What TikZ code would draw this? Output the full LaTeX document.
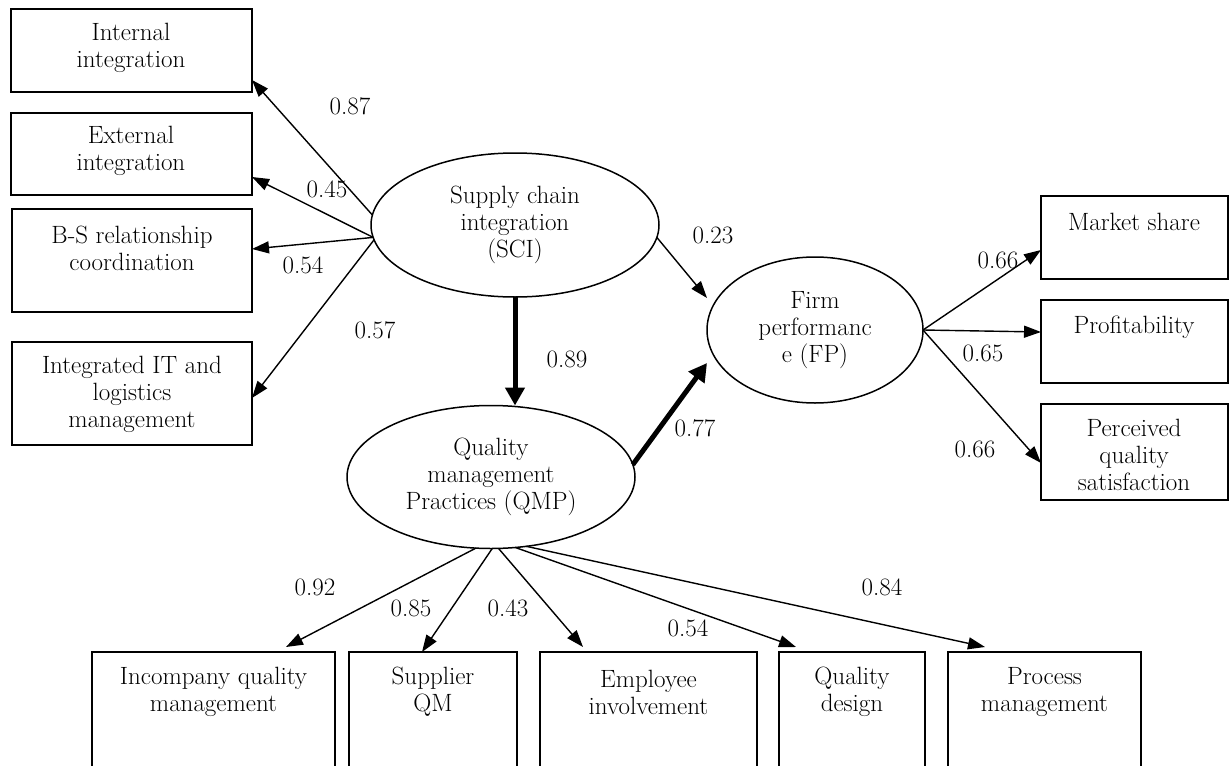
\documentclass[tikz,border=0pt]{standalone}
\usepackage{fontspec}
\usetikzlibrary{arrows.meta,shapes.geometric}
\begin{document}
\begin{tikzpicture}[x=1pt,y=-1pt,
  box/.style={draw,line width=1.8pt,inner sep=0pt,outer sep=0pt},
  ell/.style={draw,ellipse,line width=1.5pt,inner sep=0pt,outer sep=0pt,align=center,font=\fontsize{25}{27}\selectfont},
  txt/.style={align=center,inner sep=0pt,font=\fontsize{25}{27}\selectfont},
  lbl/.style={inner sep=0pt,font=\fontsize{25}{27}\selectfont},
  arr/.style={line width=1.4pt,-{Triangle[length=17pt,width=12pt]}},
  bigarr/.style={line width=5pt,-{Triangle[length=18pt,width=19pt]}}]
\useasboundingbox (0,0) rectangle (1230,765);
% left boxes
\node[box,minimum width=241pt,minimum height=83pt] (ii) at (131.5,50.5) {};
\node[box,minimum width=241pt,minimum height=82pt] (ex) at (131.5,154) {};
\node[box,minimum width=240pt,minimum height=103pt] (bs) at (132,260.5) {};
\node[box,minimum width=240pt,minimum height=103pt] (it) at (132,393.5) {};
\node[txt] (iit) at (131,48) {Internal\\integration};
\node[txt] (ext) at (131,151) {External\\integration};
\node[txt] (bst) at (132,248) {B-S relationship\\coordination};
\node[txt] (itt) at (132,394) {Integrated IT and\\logistics\\management};
% right boxes
\node[box,minimum width=187pt,minimum height=83pt] (ms) at (1134.5,237.5) {};
\node[box,minimum width=187pt,minimum height=83pt] (pr) at (1134.5,341.5) {};
\node[box,minimum width=187pt,minimum height=96pt] (pq) at (1134.5,452) {};
\node[txt] (mst) at (1134,222) {Market share};
\node[txt] (prt) at (1134,327) {Profitability};
\node[txt] (pqt) at (1134,455) {Perceived\\quality\\satisfaction};
% bottom boxes
\node[box,minimum width=243pt,minimum height=148pt] (ic) at (213.5,726) {};
\node[box,minimum width=168pt,minimum height=148pt] (sq) at (433,726) {};
\node[box,minimum width=217pt,minimum height=148pt] (ei) at (648.5,726) {};
\node[box,minimum width=146pt,minimum height=148pt] (qd) at (852,726) {};
\node[box,minimum width=193pt,minimum height=148pt] (pm) at (1044.5,726) {};
\node[txt] (ict) at (213.5,692) {Incompany quality\\management};
\node[txt] (sqt) at (433,692) {Supplier\\QM};
\node[txt] (eit) at (648.5,692) {Employee\\involvement};
\node[txt] (qdt) at (852,692) {Quality\\design};
\node[txt] (pmt) at (1044.5,692) {Process\\management};
% ellipses
\node[ell,minimum width=288pt,minimum height=144pt] (sci) at (515,225) {Supply chain\\integration\\(SCI)};
\node[ell,minimum width=288pt,minimum height=143pt] (qmp) at (491,477) {Quality\\management\\Practices (QMP)};
\node[ell,minimum width=216pt,minimum height=146pt] (fp) at (815,330) {Firm\\performanc\\e (FP)};
% connectors SCI -> left
\draw[arr] (sci.176) -- ([yshift=12pt]ii.south east);
\draw[arr] (sci.185) -- ([yshift=18pt]ex.south east);
\draw[arr] (sci.185) -- ([yshift=-40pt]bs.north east);
\draw[arr] (sci.186) -- ([yshift=-56pt]it.north east);
% structural paths
\draw[arr] (sci.-5) -- ([xshift=-108pt,yshift=32pt]fp.center);
\draw[bigarr] (sci.south) -- (sci.south |- qmp.north);
\draw[bigarr] (qmp.5) -- ([xshift=-108pt,yshift=-33pt]fp.center);
% FP -> right
\draw[arr] (fp.east) -- ([yshift=-54pt]ms.north west);
\draw[arr] (fp.east) -- ([yshift=-32pt]pr.north west);
\draw[arr] (fp.east) -- ([yshift=-59pt]pq.north west);
% QMP -> bottom
\draw[arr] (qmp.258) -- ([xshift=-49pt,yshift=5pt]ic.north east);
\draw[arr] (qmp.271) -- ([xshift=73pt]sq.north west);
\draw[arr] (qmp.276) -- ([xshift=43pt,yshift=5pt]ei.north west);
\draw[arr] (qmp.289) -- ([xshift=17pt,yshift=5pt]qd.north west);
\draw[arr] (qmp.297) -- ([xshift=37pt,yshift=5pt]pm.north west);
% labels
\node[lbl] (l1) at (350,106) {0.87};
\node[lbl] (l2) at (327,189) {0.45};
\node[lbl] (l3) at (303,265) {0.54};
\node[lbl] (l4) at (375,330) {0.57};
\node[lbl] (l5) at (713,235) {0.23};
\node[lbl] (l6) at (567,359) {0.89};
\node[lbl] (l7) at (695,428) {0.77};
\node[lbl] (l8) at (998,260) {0.66};
\node[lbl] (l9) at (983,353) {0.65};
\node[lbl] (l10) at (975,449) {0.66};
\node[lbl] (l11) at (315,587) {0.92};
\node[lbl] (l12) at (411,608) {0.85};
\node[lbl] (l13) at (508,608) {0.43};
\node[lbl] (l14) at (688,628) {0.54};
\node[lbl] (l15) at (882,587) {0.84};
\end{tikzpicture}
\end{document}
